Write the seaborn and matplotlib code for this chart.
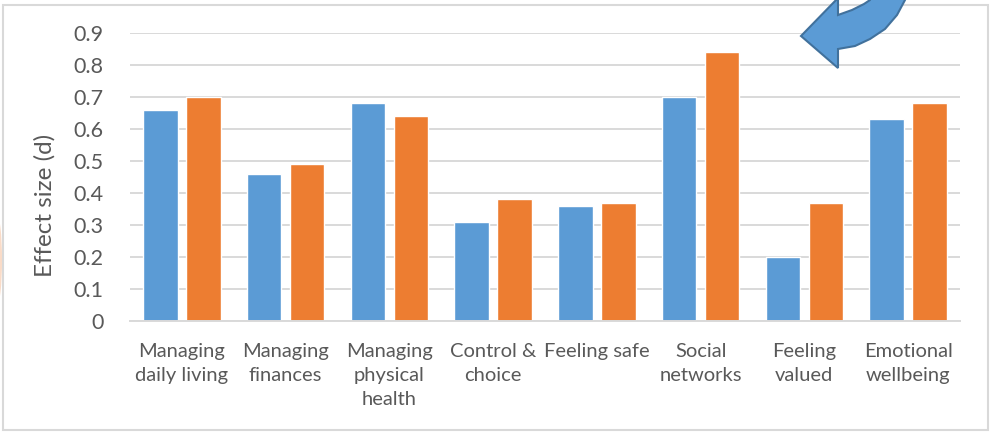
import pandas as pd
import numpy as np
import matplotlib
matplotlib.use("Agg")
import matplotlib.pyplot as plt
import seaborn as sns
from matplotlib.patches import Polygon, Rectangle, Ellipse

categories = ["Managing\ndaily living", "Managing\nfinances", "Managing\nphysical\nhealth",
              "Control &\nchoice", "Feeling safe", "Social\nnetworks", "Feeling\nvalued",
              "Emotional\nwellbeing"]
series_a = [0.66, 0.46, 0.68, 0.31, 0.36, 0.70, 0.20, 0.63]
series_b = [0.70, 0.49, 0.64, 0.38, 0.37, 0.84, 0.37, 0.68]
series_names = ["A", "B"]
yticks = [0, 0.1, 0.2, 0.3, 0.4, 0.5, 0.6, 0.7, 0.8, 0.9]

df = pd.DataFrame({
    "category": categories * 2,
    "value": series_a + series_b,
    "series": [series_names[0]] * len(categories) + [series_names[1]] * len(categories),
})

sns.set_style("white")
plt.rcParams["font.family"] = ["Lato", "DejaVu Sans"]

W, H = 991, 434
fig = plt.figure(figsize=(W / 100, H / 100), dpi=100)
ax = fig.add_axes([130 / W, 1 - 321 / H, 830 / W, 288 / H])

sns.barplot(data=df, x="category", y="value", hue="series", ax=ax,
            palette=["#5B9BD5", "#ED7D31"], width=0.83, gap=0.2,
            legend=False, saturation=1)

grey = "#595959"
ax.set_ylim(0, 0.9)
ax.set_xlim(-0.5, len(categories) - 0.5)
ax.set_yticks(yticks)
ax.set_yticklabels([("%g" % t) for t in yticks], fontsize=15.5, color=grey)
ax.tick_params(axis="y", length=0, pad=19)
ax.tick_params(axis="x", length=0, pad=16, labelsize=14.5, labelcolor=grey)
for lbl in ax.get_xticklabels():
    lbl.set_linespacing(1.5)
    lbl.set_verticalalignment("top")
ax.set_xlabel("")
ax.set_ylabel("Effect size (d)", fontsize=17.5, color=grey)
ax.yaxis.set_label_coords(-0.09, 0.40)

ax.yaxis.grid(True, color="#D9D9D9", linewidth=1.4)
ax.set_axisbelow(True)
for s in ["top", "right", "left"]:
    ax.spines[s].set_visible(False)
ax.spines["bottom"].set_color("#D9D9D9")
ax.spines["bottom"].set_linewidth(1.4)

# outer chart border
px = lambda x, y: (x / W, 1 - y / H)
fig.patches.append(Rectangle(px(3, 430), 985 / W, 425 / H, transform=fig.transFigure,
                             fill=False, edgecolor="#D9D9D9", linewidth=1.5))

# faint orange shape clipped at the left edge
fig.patches.append(Ellipse(px(-3, 260), 10 / W, 90 / H, transform=fig.transFigure,
                           facecolor="#F4B183", edgecolor="none", alpha=0.45))

# decorative curved arrow at top right
arrow_pts = [(801, 36), (838, 68), (838, 49), (855, 46), (870, 39), (885, 29), (897, 15),
             (905, 0), (910, -20), (872, -20), (870, 0), (864, 4), (852, 10), (838, 15),
             (838, -2)]
fig.patches.append(Polygon([px(x, y) for x, y in arrow_pts], closed=True,
                           transform=fig.transFigure, facecolor="#5B9BD5",
                           edgecolor="#41719C", linewidth=1.5, zorder=5))

fig.savefig("out.png", dpi=100)
